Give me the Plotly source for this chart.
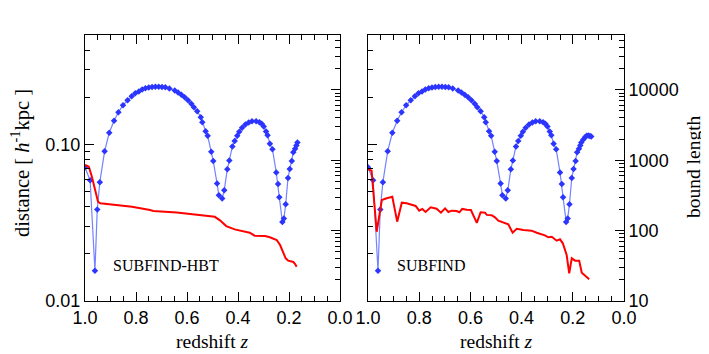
import math
import plotly.graph_objects as go

# ---------------- data ----------------
# orbit distance (blue), same orbit drawn in both panels
z_orbit = [1.000, 0.980, 0.961, 0.952, 0.942, 0.923, 0.905, 0.886, 0.869, 0.851,
           0.833, 0.817, 0.803, 0.789, 0.776, 0.763, 0.750, 0.737, 0.724, 0.711,
           0.698, 0.685, 0.669, 0.648, 0.635, 0.622, 0.609, 0.596, 0.583, 0.573,
           0.560, 0.546, 0.540, 0.527, 0.519, 0.505, 0.497, 0.482, 0.475, 0.462,
           0.454, 0.442, 0.434, 0.422, 0.413, 0.403, 0.395, 0.384, 0.371, 0.358,
           0.345, 0.329, 0.316, 0.307, 0.299, 0.290, 0.284, 0.275, 0.265, 0.250,
           0.243, 0.238, 0.226, 0.220, 0.213, 0.204, 0.197, 0.189, 0.183, 0.176,
           0.171, 0.167, 0.159, 0.152, 0.146, 0.139, 0.133, 0.128]
dist_orbit = [0.0714, 0.059, 0.0156, 0.0384, 0.0573, 0.0906, 0.1187, 0.1416, 0.1606, 0.178,
              0.1915, 0.203, 0.212, 0.218, 0.224, 0.2285, 0.2307, 0.2331, 0.234, 0.234,
              0.2331, 0.2317, 0.2275, 0.2208, 0.2144, 0.208, 0.200, 0.1915, 0.1817, 0.1729,
              0.163, 0.1493, 0.1387, 0.1216, 0.1136, 0.0898, 0.0783, 0.0562, 0.0473, 0.0451,
              0.0509, 0.0693, 0.0791, 0.0971, 0.105, 0.1136, 0.1205, 0.1278, 0.134, 0.138,
              0.1407, 0.1407, 0.1387, 0.1355, 0.1302, 0.121, 0.1146, 0.101, 0.0933, 0.0663,
              0.0558, 0.046, 0.032, 0.0336, 0.0415, 0.061, 0.0696, 0.0783, 0.0893, 0.0939,
              0.0986, 0.103, 0.1076, 0.1112, 0.1136, 0.1141, 0.113, 0.1124]
hbt_last_z = 0.167  # HBT panel orbit ends here

# bound length (red)
z_hbt = [0.999, 0.985, 0.973, 0.960, 0.949, 0.940, 0.881, 0.816, 0.745, 0.732,
         0.640, 0.544, 0.491, 0.472, 0.446, 0.413, 0.354, 0.335, 0.294, 0.275,
         0.248, 0.235, 0.222, 0.213, 0.203, 0.183, 0.176, 0.170]
bound_hbt = [855, 809, 583, 377, 257, 244, 231, 218, 196, 190,
             180, 167, 157, 141, 116, 104, 93.3, 84.7, 83.8, 80.3,
             73.5, 62.4, 47.6, 40.4, 37.4, 35.8, 33.5, 30.7]

z_subfind = [0.999, 0.986, 0.966, 0.946, 0.927, 0.905, 0.886, 0.868, 0.849, 0.829,
             0.814, 0.800, 0.788, 0.775, 0.755, 0.732, 0.715, 0.699, 0.686, 0.673,
             0.654, 0.643, 0.632, 0.614, 0.598, 0.575, 0.560, 0.543, 0.536, 0.517,
             0.504, 0.491, 0.471, 0.452, 0.435, 0.419, 0.393, 0.361, 0.341, 0.309,
             0.296, 0.282, 0.263, 0.250, 0.239, 0.224, 0.214, 0.204, 0.191, 0.175,
             0.165, 0.148, 0.136]
bound_subfind = [743, 709, 96.4, 272, 288, 303, 134, 249, 244, 229,
                 224, 192, 203, 184, 214, 205, 180, 207, 184, 192,
                 190, 182, 203, 198, 196, 129, 182, 180, 167, 165,
                 154, 138, 129, 123, 93.3, 106, 102, 99.7, 93.3, 85.7,
                 80.3, 81.9, 71.9, 75.2, 66, 45, 24.7, 40.4, 37.4, 37.4,
                 25.2, 22.6, 20.3]

x_ticks = [1.0, 0.8, 0.6, 0.4, 0.2, 0.0]
x_ticktext = ["1.0", "0.8", "0.6", "0.4", "0.2", "0.0"]
dist_ticks = [0.01, 0.1]
dist_ticktext = ["0.01", "0.10"]
bound_ticks = [10, 100, 1000, 10000]
bound_ticktext = ["10", "100", "1000", "10000"]
panel_labels = ["SUBFIND-HBT", "SUBFIND"]

# ---------------- layout geometry ----------------
# page coordinates; the figure sits 8px from the page corner (body margin)
OFF = 8
W, H = 709 - OFF, 354 - OFF
L0, L1, R0, R1, T, B = 85, 340, 368, 624, 35, 301
def px(x): return (x - OFF) / W
def py(y): return 1 - (y - OFF) / H

dist_minor = [0.02, 0.03, 0.04, 0.05, 0.06, 0.07, 0.08, 0.09, 0.2, 0.3, 0.4, 0.5]
bound_minor = [m * d for d in (10, 100, 1000, 10000) for m in range(2, 10) if m * d <= 60000]

BLUE_LINE = "#7483ff"
BLUE_MARK = "#2b35ff"
RED = "#ff0000"

fig = go.Figure()
n_hbt = sum(1 for z in z_orbit if z >= hbt_last_z)

fig.add_trace(go.Scatter(x=z_orbit[:n_hbt], y=dist_orbit[:n_hbt], xaxis="x", yaxis="y",
                         mode="lines+markers", line=dict(color=BLUE_LINE, width=1.2),
                         marker=dict(symbol="diamond", size=5, color=BLUE_MARK), showlegend=False))
fig.add_trace(go.Scatter(x=z_hbt, y=bound_hbt, xaxis="x", yaxis="y2", mode="lines",
                         line=dict(color=RED, width=2), showlegend=False))
fig.add_trace(go.Scatter(x=z_orbit, y=dist_orbit, xaxis="x2", yaxis="y3",
                         mode="lines+markers", line=dict(color=BLUE_LINE, width=1.2),
                         marker=dict(symbol="diamond", size=5, color=BLUE_MARK), showlegend=False))
fig.add_trace(go.Scatter(x=z_subfind, y=bound_subfind, xaxis="x2", yaxis="y4", mode="lines",
                         line=dict(color=RED, width=2), showlegend=False))

tickfont = dict(family="Liberation Sans, Arial, sans-serif", size=18, color="black")
common = dict(showline=True, linecolor="black", linewidth=1, ticks="inside", tickcolor="black",
              showgrid=False, zeroline=False, automargin=False, tickfont=tickfont, ticklen=9)

def xax(dom, anchor):
    return dict(common, domain=dom, anchor=anchor, range=[1.0, 0.0], tickmode="array",
                tickvals=x_ticks, ticktext=x_ticktext, mirror="ticks",
                minor=dict(ticks="inside", dtick=0.05, tick0=0, ticklen=5, tickcolor="black"))

def dax(anchor, labels):
    return dict(common, domain=[py(B), py(T)], anchor=anchor, type="log",
                range=[-2, math.log10(0.5)], tickmode="array", tickvals=dist_ticks,
                ticktext=dist_ticktext, showticklabels=labels, side="left",
                minor=dict(ticks="inside", tickmode="array", tickvals=dist_minor, ticklen=5, tickcolor="black"))

def bax(anchor, over, labels):
    return dict(common, anchor=anchor, overlaying=over, side="right", type="log",
                range=[1, math.log10(60000)], tickmode="array", tickvals=bound_ticks,
                ticktext=bound_ticktext, showticklabels=labels,
                minor=dict(ticks="inside", tickmode="array", tickvals=bound_minor, ticklen=5, tickcolor="black"))

serif = "Liberation Serif, Times New Roman, serif"
TS = 19.5
annotations = [
    dict(text="distance [ <i>h</i><sup>-1</sup>kpc ]", x=px(20), y=py(163), textangle=-90,
         font=dict(family=serif, size=20.5, color="black")),
    dict(text="bound length", x=px(693), y=py(167), textangle=-90,
         font=dict(family=serif, size=TS, color="black")),
    dict(text="redshift <i>z</i>", x=px((L0 + L1) / 2), y=py(341),
         font=dict(family=serif, size=TS, color="black")),
    dict(text="redshift <i>z</i>", x=px((R0 + R1) / 2), y=py(341),
         font=dict(family=serif, size=TS, color="black")),
    dict(text=panel_labels[0], x=px(111), y=py(265), xanchor="left",
         font=dict(family=serif, size=16, color="black")),
    dict(text=panel_labels[1], x=px(395), y=py(265), xanchor="left",
         font=dict(family=serif, size=16, color="black")),
]
for a in annotations:
    a.update(xref="paper", yref="paper", showarrow=False)
    a.setdefault("xanchor", "center")
    a.setdefault("yanchor", "middle")

fig.update_layout(
    width=W, height=H, margin=dict(l=0, r=0, t=0, b=0),
    paper_bgcolor="white", plot_bgcolor="white",
    xaxis=xax([px(L0), px(L1)], "y"),
    yaxis=dax("x", True),
    yaxis2=bax("x", "y", False),
    xaxis2=xax([px(R0), px(R1)], "y3"),
    yaxis3=dax("x2", False),
    yaxis4=bax("x2", "y3", True),
    annotations=annotations,
)

fig.write_html("out.html")
